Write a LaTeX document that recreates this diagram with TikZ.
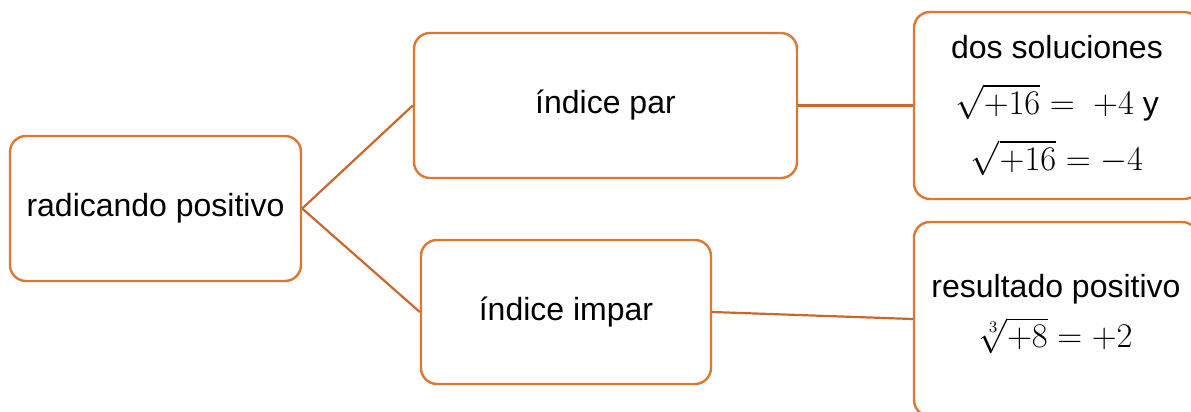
\documentclass[tikz,border=0pt]{standalone}
\usepackage{amsmath}
\usepackage{fontspec}
\setmainfont{Liberation Sans}
\usetikzlibrary{positioning}
\definecolor{boxorange}{RGB}{221,120,50}
\definecolor{linkorange}{RGB}{200,104,44}

\begin{document}
\begin{tikzpicture}[x=0.5pt,y=-0.5pt, every node/.style={font=\fontsize{16}{19}\selectfont},
  box/.style={draw=boxorange,line width=1.2pt,rounded corners=8pt,fill=white,align=center,inner sep=0pt},
  link/.style={draw=linkorange,line width=1.1pt}]
  \useasboundingbox (0,0) rectangle (1191,412);
  \clip (0,0) rectangle (1191,412);
  % level 0
  \node[box,minimum width=145.5pt,minimum height=72.5pt] (radicando) at (155.5,208.5) {radicando positivo};
  % level 1
  \node[box,minimum width=191.5pt,minimum height=72.5pt] (par) at (605.5,105.5) {índice par};
  \node[box,minimum width=145pt,minimum height=72pt] (impar) at (566,312) {índice impar};
  % level 2
  \node[box,minimum width=143pt,minimum height=93.5pt] (dos) at (1057,105.5)
    {dos soluciones\\[9pt] $\sqrt{+16} =\ +4$ y\\[9pt] $\sqrt{+16} = -4$};
  \node[box,minimum width=142pt,minimum height=97pt] (resultado) at (1056,319)
    {resultado positivo\\[6pt] $\sqrt[3]{+8} = +2$\\[-11pt]};
  \foreach \a/\b in {radicando/par,radicando/impar,par/dos,impar/resultado}{\draw[link] (\a.east) -- (\b.west);}
\end{tikzpicture}
\end{document}
